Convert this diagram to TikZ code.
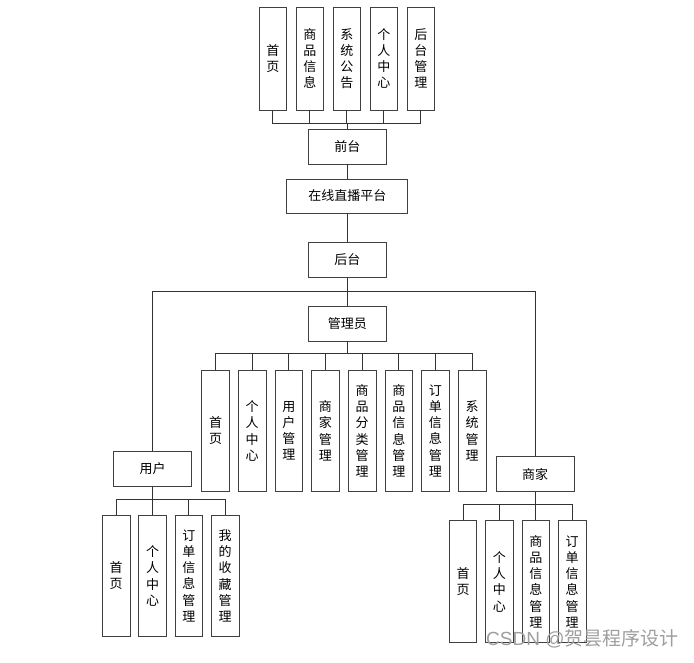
\documentclass[tikz,border=0pt]{standalone}
\usepackage{fontspec}
\setmainfont{Noto Sans CJK SC}
\newfontfamily\wmlatin{Liberation Sans}
\begin{document}
\begin{tikzpicture}[x=1pt,y=-1pt,
  box/.style={draw=black!75,line width=0.8pt,fill=white,inner sep=0pt,align=center,
    font=\fontsize{13}{16.2}\selectfont},
  vbox/.style={box,minimum width=27.6pt,minimum height=121.7pt},
  tbox/.style={box,minimum width=27.5pt,minimum height=103pt},
  hbox/.style={box,minimum width=78.6pt,minimum height=35pt,font=\fontsize{13}{15}\selectfont},
  conn/.style={draw=black!80,line width=0.8pt}]
\useasboundingbox (0,0) rectangle (694,663);
% top row
\node[tbox] (t1) at (272.75,58.5) {首\\页};
\node[tbox] (t2) at (309.75,58.5) {商\\品\\信\\息};
\node[tbox] (t3) at (346.75,58.5) {系\\统\\公\\告};
\node[tbox] (t4) at (383.75,58.5) {个\\人\\中\\心};
\node[tbox] (t5) at (420.75,58.5) {后\\台\\管\\理};
\node[hbox] (qt) at (347.3,146.5) {前台};
\node[hbox,minimum width=121pt,minimum height=34pt] (pt) at (347.3,196) {在线直播平台};
\node[hbox] (ht) at (347.3,260) {后台};
\node[hbox] (gly) at (347.3,323.5) {管理员};
\node[hbox] (yh) at (152.5,468.5) {用户};
\node[hbox] (sj) at (535.2,474.3) {商家};
% admin children
\node[vbox] (a1) at (215.5,430.85) {首\\页};
\node[vbox] (a2) at (252.16,430.85) {个\\人\\中\\心};
\node[vbox] (a3) at (288.82,430.85) {用\\户\\管\\理};
\node[vbox] (a4) at (325.48,430.85) {商\\家\\管\\理};
\node[vbox] (a5) at (362.14,430.85) {商\\品\\分\\类\\管\\理};
\node[vbox] (a6) at (398.8,430.85) {商\\品\\信\\息\\管\\理};
\node[vbox] (a7) at (435.46,430.85) {订\\单\\信\\息\\管\\理};
\node[vbox] (a8) at (472.12,430.85) {系\\统\\管\\理};
% user children
\node[vbox] (u1) at (116.2,575.85) {首\\页};
\node[vbox] (u2) at (152.5,575.85) {个\\人\\中\\心};
\node[vbox] (u3) at (188.8,575.85) {订\\单\\信\\息\\管\\理};
\node[vbox] (u4) at (225.1,575.85) {我\\的\\收\\藏\\管\\理};
% merchant children
\node[vbox,minimum height=122pt] (m1) at (463,581.7) {首\\页};
\node[vbox,minimum height=122pt] (m2) at (499.4,581.7) {个\\人\\中\\心};
\node[vbox,minimum height=122pt] (m3) at (535.8,581.7) {商\\品\\信\\息\\管\\理};
\node[vbox,minimum height=122pt] (m4) at (572.2,581.7) {订\\单\\信\\息\\管\\理};
% connectors
\foreach \c in {t1,t2,t3,t4,t5} \draw[conn] (\c.south) -- ++(0,13) -| (qt.north);
\draw[conn] (qt.south) -- (pt.north);
\draw[conn] (pt.south) -- (ht.north);
\draw[conn] (ht.south) -- (gly.north);
\draw[conn] (ht.south) -- ++(0,13.2) -| (yh.north);
\draw[conn] (ht.south) -- ++(0,13.2) -| (sj.north);
\foreach \c in {a1,a2,a3,a4,a5,a6,a7,a8} \draw[conn] (\c.north) -- ++(0,-16) -| (gly.south);
\foreach \c in {u1,u2,u3,u4} \draw[conn] (\c.north) -- ++(0,-15.7) -| (yh.south);
\foreach \c in {m1,m2,m3,m4} \draw[conn] (\c.north) -- ++(0,-15.7) -| (sj.south);
% watermark
\node[text=black!38,font=\fontsize{19}{20}\selectfont,inner sep=0pt,anchor=west] (wm) at (486,639) {{\wmlatin CSDN @}贺昙程序设计};
\end{tikzpicture}
\end{document}
